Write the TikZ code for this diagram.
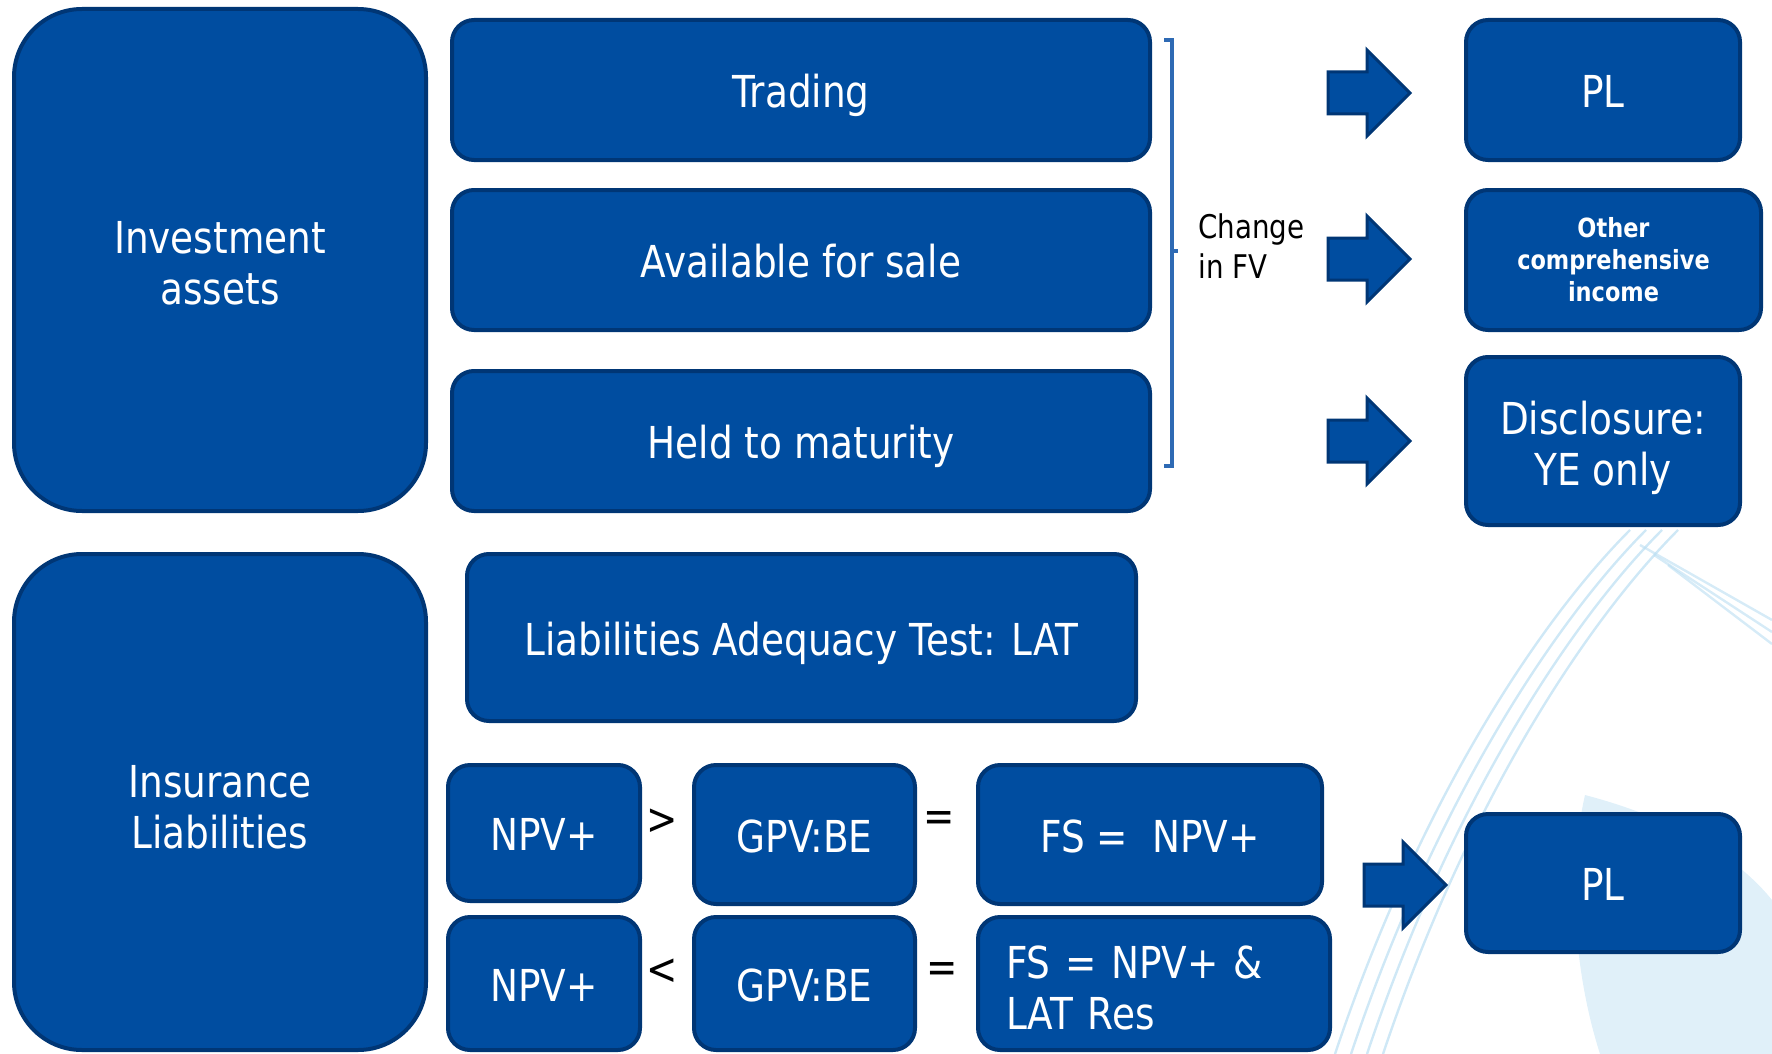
\documentclass[tikz,border=0pt]{standalone}
\usepackage{fontspec}
\setmainfont{DejaVu Sans}[FakeStretch=0.85]
\definecolor{boxblue}{RGB}{0,77,160}
\definecolor{edgeblue}{RGB}{0,54,117}
\definecolor{bracketblue}{RGB}{46,106,180}
\definecolor{swoosh}{RGB}{186,222,242}
\tikzset{box/.style={draw=edgeblue, line width=2pt, fill=boxblue, text=white, rounded corners=11pt,
            inner sep=0pt, align=center, font=\fontsize{22}{25.5}\selectfont},
         oneline/.style={box, text height=23.3pt, text depth=5.5pt},
         bigbox/.style={box, rounded corners=34pt, minimum width=206pt},
         sign/.style={inner sep=0pt, font=\fontsize{22}{25.5}\selectfont}}
\newcommand*\fatarrow[2]{\draw[draw=edgeblue, fill=boxblue, line width=1.5pt]
            (#1,#2) ++(0,-21) -- ++(39,0) -- ++(0,-22) -- ++(43,43) -- ++(-43,43) -- ++(0,-22) -- ++(-39,0) -- cycle;}

\begin{document}
\begin{tikzpicture}[x=0.5pt, y=-0.5pt]
        \useasboundingbox (0,0) rectangle (1772,1054);
        % background swooshes
        \foreach \i in {0,1,2,3}
            \draw[swoosh, line width=1.2pt, opacity=0.7] (1335+16*\i,1054) .. controls (1420+16*\i,800) and (1540+16*\i,620) .. (1630+16*\i,530);
        \foreach \i in {0,1,2}
            \draw[swoosh, line width=1.2pt, opacity=0.6] (1640+14*\i,545+10*\i) -- (1772,620+12*\i);
        \fill[swoosh, opacity=0.45] (1585,795) .. controls (1680,820) and (1740,860) .. (1772,900) -- (1772,1054) -- (1600,1054) .. controls (1570,960) and (1570,860) .. cycle;
        %
        \node[bigbox, minimum height=251pt] (invest) at (220,260) {\rule{0pt}{19pt}Investment\\assets};
        \node[oneline, minimum width=349pt, minimum height=70pt] (trading) at (801,90) {Trading};
        \node[oneline, minimum width=349pt, minimum height=70pt] (afs) at (801,260) {Available for sale};
        \node[oneline, minimum width=349pt, minimum height=70pt] (htm) at (801,441) {Held to maturity};
        \draw[bracketblue, line width=1.6pt] (1164,40) -- (1172,40) -- (1172,466) -- (1164,466);
        \draw[bracketblue, line width=1.6pt] (1172,251) -- (1178,251);
        \node[anchor=west, align=left, inner sep=0pt, font=\fontsize{16.3}{20}\selectfont] (fv) at (1198,246) {Change\\in FV};
        \fatarrow{1328}{93}
        \fatarrow{1328}{259}
        \fatarrow{1328}{441}
        \node[oneline, minimum width=137pt, minimum height=70pt] (pl) at (1603,90) {PL};
        \node[box, minimum width=147.5pt, minimum height=70pt, font=\bfseries\fontsize{13.2}{16}\selectfont] (oci) at (1613.5,260) {Other\\comprehensive\\income};
        \node[box, minimum width=137pt, minimum height=84pt] (disclose) at (1603,441) {\rule{0pt}{23.5pt}Disclosure:\\YE only};
        %
        \node[bigbox, minimum height=248pt] (insur) at (220,802) {\rule{0pt}{21.2pt}Insurance\\Liabilities};
        \node[oneline, minimum width=334.5pt, minimum height=83.5pt] (lat) at (801.5,637.5) {Liabilities Adequacy Test: LAT};
        \node[oneline, minimum width=96pt, minimum height=68pt] (npvA) at (544,833) {NPV+};
        \node[oneline, minimum width=110.5pt, minimum height=69.5pt] (gpvA) at (804.5,834.5) {GPV:BE};
        \node[oneline, minimum width=172pt, minimum height=69.5pt] (fsA) at (1150,834.5) {FS = \ NPV+};
        \node[oneline, minimum width=96pt, minimum height=66.5pt] (npvB) at (544,983.5) {NPV+};
        \node[oneline, minimum width=110.5pt, minimum height=66.5pt] (gpvB) at (804.5,983.5) {GPV:BE};
        \node[box, text width=148pt, inner xsep=14pt, minimum height=66.5pt, align=left] (fsB) at (1154,983.5) {\rule{0pt}{20.7pt}FS = NPV+ \&\\LAT Res};
        \node[sign] (gt) at (662,822) {>};
        \node[sign] (lt) at (662,972) {<};
        \node[sign] (eqA) at (939,822) {=};
        \node[sign] (eqB) at (942,972) {=};
        \fatarrow{1364}{885}
        \node[oneline, minimum width=137pt, minimum height=69pt] (plB) at (1603,883) {PL};
    \end{tikzpicture}
\end{document}
